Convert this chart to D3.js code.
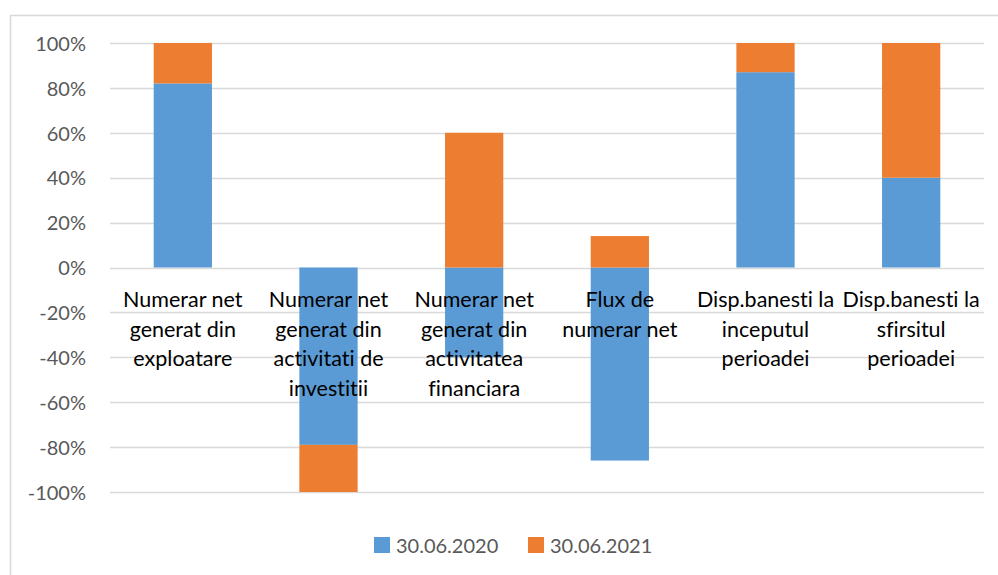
<!DOCTYPE html>
<html>
<head>
<meta charset="utf-8">
<script src="https://cdn.jsdelivr.net/npm/d3@7"></script>
<style>
  html, body { margin: 0; padding: 0; background: #fff; }
  svg { display: block; }
  text { font-variant-ligatures: none; font-feature-settings: "liga" 0, "clig" 0; }
</style>
</head>
<body>
<svg id="chart" width="998" height="575"></svg>
<script>
const categories = [
  "Numerar net\ngenerat din\nexploatare",
  "Numerar net\ngenerat din\nactivitati de\ninvestitii",
  "Numerar net\ngenerat din\nactivitatea\nfinanciara",
  "Flux de\nnumerar net",
  "Disp.banesti la\ninceputul\nperioadei",
  "Disp.banesti la\nsfirsitul\nperioadei"
];
const seriesNames = ["30.06.2020", "30.06.2021"];
const values2020 = [0.82, -0.79, -0.40, -0.86, 0.87, 0.40];
const values2021 = [0.18, -0.21, 0.60, 0.14, 0.13, 0.60];
const yTicks = [-1, -0.8, -0.6, -0.4, -0.2, 0, 0.2, 0.4, 0.6, 0.8, 1];
const colors = ["#5B9BD5", "#ED7D31"];

const svg = d3.select("#chart");
const plot = { left: 110, right: 984, top: 43, bottom: 492 };

// outer frame
svg.append("rect")
  .attr("x", 10.5).attr("y", 15.5)
  .attr("width", 1000).attr("height", 600)
  .attr("fill", "none").attr("stroke", "#d9d9d9").attr("stroke-width", 1.5);

const x = d3.scaleBand()
  .domain(categories)
  .range([plot.left, plot.right])
  .paddingInner(0.6)
  .paddingOuter(0.3);

const y = d3.scaleLinear().domain([-1, 1]).range([plot.bottom, plot.top]);

// gridlines
svg.append("g").selectAll("line").data(yTicks).join("line")
  .attr("x1", plot.left).attr("x2", plot.right)
  .attr("y1", d => Math.round(y(d)) + 0.5).attr("y2", d => Math.round(y(d)) + 0.5)
  .attr("stroke", "#d9d9d9").attr("stroke-width", 1.5);

// y axis labels
const pct = d3.format(".0%");
const yAxis = d3.axisLeft(y).tickValues(yTicks)
  .tickFormat(d => pct(d).replace("\u2212", "-"))
  .tickSize(0).tickPadding(0);
const yg = svg.append("g").attr("transform", "translate(86,0)").call(yAxis);
yg.select(".domain").remove();
yg.selectAll("text")
  .attr("font-family", "Lato, 'Open Sans', sans-serif")
  .attr("font-size", 20)
  .attr("fill", "#595959")
  .attr("dy", "0.36em");

// stacked data
const table = categories.map((c, i) => ({ cat: c, s0: values2020[i], s1: values2021[i] }));
const stack = d3.stack().keys(["s0", "s1"]).offset(d3.stackOffsetDiverging);
const stacked = stack(table);

svg.append("g").selectAll("g").data(stacked).join("g")
  .attr("fill", (d, i) => colors[i])
  .selectAll("rect").data(d => d).join("rect")
  .attr("x", d => x(d.data.cat))
  .attr("width", x.bandwidth())
  .attr("y", d => y(Math.max(d[0], d[1])))
  .attr("height", d => Math.abs(y(d[0]) - y(d[1])));

// category labels
const lab = svg.append("g");
categories.forEach(c => {
  const lines = c.split("\n");
  const t = lab.append("text")
    .attr("text-anchor", "middle")
    .attr("font-family", "Lato, 'Open Sans', sans-serif")
    .attr("font-size", 21.5)
    .attr("fill", "#000");
  lines.forEach((ln, j) => {
    t.append("tspan")
      .attr("x", x(c) + x.bandwidth() / 2)
      .attr("y", 307 + j * 29.5)
      .text(ln);
  });
});

// legend
const leg = svg.append("g");
const legX = [374, 528];
seriesNames.forEach((s, i) => {
  leg.append("rect").attr("x", legX[i]).attr("y", 537).attr("width", 16).attr("height", 16).attr("fill", colors[i]);
  leg.append("text").attr("x", legX[i] + 22).attr("y", 552.5)
    .attr("font-family", "Lato, 'Open Sans', sans-serif")
    .attr("font-size", 20).attr("fill", "#595959").text(s);
});
</script>
</body>
</html>
